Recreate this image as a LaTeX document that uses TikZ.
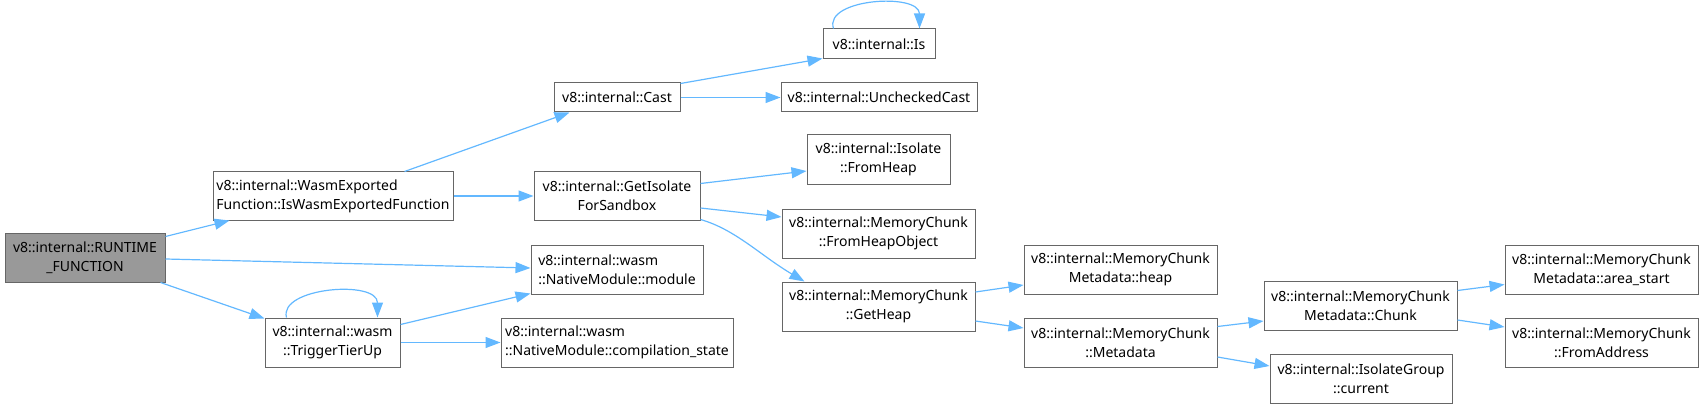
\documentclass[tikz,border=0pt]{standalone}
\usepackage{fontspec}
\setmainfont{Noto Sans}
\usetikzlibrary{calc,arrows.meta}
\definecolor{edgeblue}{HTML}{63B8FF}
\definecolor{boxgray}{HTML}{666666}
\definecolor{rootfill}{HTML}{999999}
\begin{document}
\begin{tikzpicture}[x=1pt,y=-1pt,
  fn/.style={draw=boxgray,line width=1pt,fill=white,inner sep=0pt,align=center,
    font=\fontsize{14}{19}\selectfont},
  fnl/.style={fn,align=left},
  root/.style={fn,fill=rootfill},
  call/.style={draw=edgeblue,line width=1.2pt,-{Triangle[length=15pt,width=11pt]}}]
\useasboundingbox (0,0) rectangle (1703,409);
% nodes
\node[root,minimum width=160pt,minimum height=49pt] (rf) at (85,257.5) {v8::internal::RUNTIME\\\_FUNCTION};
\node[fnl,minimum width=240pt,minimum height=48pt] (wasm) at (333,196) {v8::internal::WasmExported\\Function::IsWasmExportedFunction};
\node[fn,minimum width=135pt,minimum height=49pt] (trig) at (332.5,342.5) {v8::internal::wasm\\::TriggerTierUp};
\node[fn,minimum width=126pt,minimum height=29pt] (cast) at (617,97.5) {v8::internal::Cast};
\node[fn,minimum width=112pt,minimum height=30pt] (is) at (879,44) {v8::internal::Is};
\node[fn,minimum width=196pt,minimum height=29pt] (unch) at (879,97.5) {v8::internal::UncheckedCast};
\node[fn,minimum width=166pt,minimum height=48pt] (gis) at (617,196) {v8::internal::GetIsolate\\ForSandbox};
\node[fn,minimum width=143pt,minimum height=49pt] (ifh) at (878.5,159.5) {v8::internal::Isolate\\::FromHeap};
\node[fn,minimum width=193pt,minimum height=49pt] (fho) at (878.5,233.5) {v8::internal::MemoryChunk\\::FromHeapObject};
\node[fnl,minimum width=172pt,minimum height=49pt] (nmm) at (617,269.5) {v8::internal::wasm\\::NativeModule::module};
\node[fnl,minimum width=232pt,minimum height=49pt] (cs) at (617,342.5) {v8::internal::wasm\\::NativeModule::compilation\_state};
\node[fn,minimum width=193pt,minimum height=49pt] (gh) at (878.5,306.5) {v8::internal::MemoryChunk\\::GetHeap};
\node[fn,minimum width=193pt,minimum height=49pt] (mh) at (1120.5,269.5) {v8::internal::MemoryChunk\\Metadata::heap};
\node[fn,minimum width=193pt,minimum height=49pt] (md) at (1120.5,342.5) {v8::internal::MemoryChunk\\::Metadata};
\node[fn,minimum width=193pt,minimum height=49pt] (ch) at (1360.5,305.5) {v8::internal::MemoryChunk\\Metadata::Chunk};
\node[fn,minimum width=182pt,minimum height=49pt] (igc) at (1361,378.5) {v8::internal::IsolateGroup\\::current};
\node[fn,minimum width=193pt,minimum height=49pt] (as) at (1601.5,269.5) {v8::internal::MemoryChunk\\Metadata::area\_start};
\node[fn,minimum width=193pt,minimum height=49pt] (fa) at (1601.5,342.5) {v8::internal::MemoryChunk\\::FromAddress};
% edges
\draw[call] ($(rf.north east)+(0,4)$) -- ($(wasm.south west)+(17,0)$);
\draw[call] ($(rf.east)+(0,1.5)$) -- ($(nmm.west)+(0,-1.5)$);
\draw[call] ($(rf.south east)+(-5,0)$) -- ($(trig.north west)+(0,1)$);
\draw[call] ($(trig.north west)+(22,0)$) .. controls ($(trig.north west)+(14,-30)$) and ($(trig.north west)+(113,-38)$) .. ($(trig.north west)+(113,0)$);
\draw[call] ($(trig.north east)+(0,7)$) -- ($(nmm.south west)+(0,-1)$);
\draw[call] (trig.east) -- (cs.west);
\draw[call] ($(wasm.north west)+(192,0)$) -- ($(cast.south west)+(16,0)$);
\draw[call] (wasm.east) -- (gis.west);
\draw[call] ($(cast.north east)+(0,1)$) -- ($(is.south west)+(0,-1)$);
\draw[call] ($(is.north west)+(11,0)$) .. controls ($(is.north west)+(1,-30)$) and ($(is.north west)+(97,-36)$) .. ($(is.north west)+(97,0)$);
\draw[call] (cast.east) -- (unch.west);
\draw[call] ($(gis.north east)+(0,12)$) -- ($(ifh.west)+(0,11.5)$);
\draw[call] ($(gis.east)+(0,12)$) -- ($(fho.west)+(0,-16.5)$);
\draw[call] ($(gis.south east)+(0,-1)$) .. controls ($(gis.south east)+(35,9)$) and ($(gis.south east)+(60,35)$) .. ($(gh.north west)+(23,0)$);
\draw[call] ($(gh.east)+(0,-14.5)$) -- ($(mh.west)+(0,15.5)$);
\draw[call] ($(gh.east)+(0,14.5)$) -- ($(md.west)+(0,-14.5)$);
\draw[call] ($(md.north east)+(0,9)$) -- ($(ch.west)+(0,15.5)$);
\draw[call] ($(md.east)+(0,14.5)$) -- ($(igc.west)+(0,-12.5)$);
\draw[call] ($(ch.north east)+(0,10)$) -- ($(as.south west)+(0,-10)$);
\draw[call] ($(ch.east)+(0,14.5)$) -- ($(fa.west)+(0,-15.5)$);
\end{tikzpicture}
\end{document}
